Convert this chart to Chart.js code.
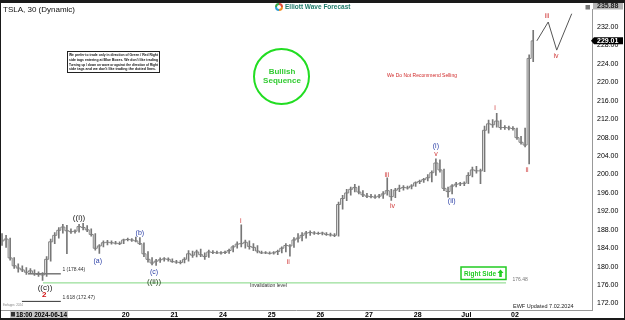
<!DOCTYPE html>
<html>
<head>
<meta charset="utf-8">
<script src="https://cdn.jsdelivr.net/npm/chart.js@4/dist/chart.umd.min.js"></script>
<style>
  html, body { margin: 0; padding: 0; background: #fff; }
</style>
</head>
<body>
<canvas id="tslaChart" width="625" height="320"></canvas>
<script>
// 30 min bars, 12 per session, index 0 = 18:00 2024-06-14
const lows = [
  184.6, 184.2, 181.4, 179.6, 178.8, 178.9, 178.3,                                   // 14
  178.5, 178.1, 177.9, 177.0, 177.9, 181.2, 185.0, 186.2, 187.3, 182.8, 187.2, 187.3, // 17
  187.5, 188.0, 187.6, 186.6, 183.6, 182.9, 184.3, 184.7, 184.9, 184.9, 184.8, 185.0, // 18
  185.6, 185.5, 185.4, 184.8, 182.2, 181.0, 180.4, 180.3, 180.9, 181.2, 181.2, 180.9, // 20
  180.7, 180.6, 180.8, 181.2, 182.0, 182.1, 182.2, 181.6, 182.0, 182.8, 182.8, 182.7, // 21
  182.8, 182.9, 183.2, 184.0, 184.3, 184.0, 183.8, 183.5, 183.0, 182.8, 182.8, 182.7, // 24
  182.7, 182.6, 183.0, 183.2, 182.3, 184.2, 185.3, 185.6, 186.2, 186.8, 187.0, 187.0, // 25
  186.9, 186.8, 186.6, 186.5, 186.6, 192.5, 194.3, 195.5, 196.2, 195.8, 195.2, 195.0, // 26
  194.9, 194.8, 194.9, 194.8, 195.5, 194.4, 195.0, 196.3, 196.6, 196.8, 196.9, 197.4, // 27
  198.0, 198.3, 198.6, 198.4, 199.8, 200.5, 196.5, 195.1, 195.8, 197.3, 197.6, 197.6, // 28
  198.0, 199.5, 200.3, 198.0, 200.6, 209.0, 210.2, 210.3, 209.8, 209.8, 209.7, 209.6, // Jul 01
  207.6, 206.6, 206.0, 202.3, 224.5                                                  // 02
];
const highs = [
  187.2, 186.8, 186.2, 182.0, 180.6, 180.2, 179.8,
  179.6, 179.3, 178.9, 178.7, 182.2, 186.0, 187.4, 188.5, 189.2, 189.0, 188.2, 188.0,
  189.2, 189.4, 188.9, 188.2, 187.2, 184.8, 185.6, 185.7, 185.6, 185.5, 185.4, 186.0,
  186.2, 186.1, 186.4, 186.3, 185.2, 183.3, 182.0, 181.6, 181.9, 182.0, 181.9, 181.7,
  181.4, 181.3, 182.0, 183.5, 183.4, 183.6, 183.8, 183.0, 183.6, 183.5, 183.4, 183.3,
  183.4, 183.8, 184.6, 185.4, 189.1, 185.8, 185.6, 185.0, 184.6, 183.4, 183.3, 183.2,
  183.3, 183.6, 184.3, 185.0, 184.8, 186.3, 187.2, 187.4, 187.7, 187.8, 187.6, 187.5,
  187.5, 187.4, 187.3, 187.2, 194.0, 195.5, 196.8, 197.3, 197.9, 197.5, 196.5, 195.9,
  195.7, 195.6, 195.7, 196.3, 199.3, 196.8, 197.0, 197.7, 197.6, 197.5, 197.8, 198.4,
  198.8, 199.2, 200.0, 200.8, 203.4, 203.2, 201.2, 197.3, 197.8, 198.3, 198.3, 198.4,
  200.4, 201.6, 201.8, 201.2, 210.5, 211.8, 211.9, 213.3, 211.8, 210.6, 210.5, 210.4,
  210.1, 208.3, 210.1, 226.0, 231.3
];
const closes = [
  185.6, 186.0, 181.9, 180.2, 179.7, 179.3, 178.8,
  179.1, 178.5, 178.3, 178.2, 181.6, 185.4, 186.8, 187.9, 188.6, 187.8, 187.6, 187.7,
  188.7, 188.5, 188.0, 187.0, 184.0, 184.5, 185.2, 185.3, 185.2, 185.1, 185.0, 185.8,
  185.9, 185.8, 185.6, 185.0, 182.8, 181.6, 180.8, 181.2, 181.5, 181.7, 181.6, 181.1,
  181.0, 180.9, 181.6, 182.8, 182.5, 183.2, 182.6, 182.2, 183.2, 183.1, 183.0, 183.0,
  183.1, 183.5, 184.3, 184.9, 185.0, 185.3, 184.4, 184.2, 183.4, 183.0, 183.0, 182.9,
  183.0, 183.3, 184.0, 184.6, 184.5, 185.8, 186.2, 186.8, 187.3, 187.4, 187.3, 187.2,
  187.3, 187.0, 186.9, 186.8, 193.5, 194.8, 196.0, 196.8, 197.2, 196.2, 195.6, 195.3,
  195.2, 195.1, 195.3, 195.8, 196.5, 195.2, 196.6, 197.0, 197.2, 197.1, 197.5, 198.2,
  198.5, 198.9, 199.3, 200.4, 202.5, 201.0, 197.0, 196.3, 197.5, 197.9, 198.0, 198.1,
  199.8, 201.0, 200.8, 200.8, 209.6, 211.0, 210.8, 211.6, 210.2, 210.2, 210.1, 210.0,
  208.0, 207.0, 206.4, 225.2, 229.01
];

// x-axis session labels (placed at session starts)
const dayLabels = ['20', '21', '24', '25', '26', '27', '28', 'Jul', '02'];
const dayTicks = [30.5, 42.5, 54.5, 66.5, 78.5, 90.5, 102.5, 114.5, 126.5];
const priceTicks = [172, 176, 180, 184, 188, 192, 196, 200, 204, 208, 212, 216, 220, 224, 228, 232];

const lastPrice = 229.01;
const topPrice = 235.88;
const invalidation = 176.48;
const fibOne = 178.44;
const fibExt = 172.47;

// projected path after the last bar
const projX = [131.9, 134.7, 136.8, 140.5];
const projY = [229.01, 233.1, 227.0, 234.9];

// wave labels: text, bar index, price, kind
const waveLabels = [
  ['((c))', 10.6, 175.5, 'black'],
  ['2', 10.4, 174.0, 'red2'],
  ['((i))', 19.0, 190.6, 'black'],
  ['(a)', 23.6, 181.3, 'blue'],
  ['(b)', 34.0, 187.3, 'blue'],
  ['(c)', 37.5, 178.8, 'blue'],
  ['((ii))', 37.5, 176.8, 'green'],
  ['i', 58.9, 190.0, 'red'],
  ['ii', 70.6, 181.1, 'red'],
  ['iii', 94.9, 199.8, 'red'],
  ['iv', 96.3, 193.2, 'red'],
  ['(i)', 107.0, 206.1, 'blue'],
  ['v', 107.0, 204.4, 'red'],
  ['(ii)', 110.9, 194.2, 'blue'],
  ['i', 121.6, 214.4, 'red'],
  ['ii', 129.5, 200.9, 'red'],
  ['iii', 134.4, 234.3, 'red'],
  ['iv', 136.6, 225.8, 'red']
];

const labelStyle = {
  black: ['#222', '8px "Liberation Sans"'],
  red: ['#d03a3a', '7px "Liberation Sans"'],
  red2: ['#d01010', 'bold 8px "Liberation Sans"'],
  blue: ['#2b3fa6', '7px "Liberation Sans"'],
  green: ['#2a4a22', '8px "Liberation Sans"']
};

const FONT = '"Liberation Sans", Arial, sans-serif';

const overlay = {
  id: 'overlay',
  afterDatasetsDraw(chart) {
    const { ctx, scales: { x, y } } = chart;
    ctx.save();
    ctx.textBaseline = 'middle';

    // wave labels
    ctx.textAlign = 'center';
    waveLabels.forEach(([t, xi, v, kind]) => {
      ctx.fillStyle = labelStyle[kind][0];
      ctx.font = labelStyle[kind][1];
      ctx.fillText(t, x.getPixelForValue(xi), y.getPixelForValue(v));
    });

    // level texts
    ctx.textAlign = 'left';
    ctx.font = '5px ' + FONT;
    ctx.fillStyle = '#333';
    ctx.fillText('1 (' + fibOne.toFixed(2) + ')', x.getPixelForValue(14.9), y.getPixelForValue(fibOne) - 4);
    ctx.fillText('1.618 (' + fibExt.toFixed(2) + ')', x.getPixelForValue(14.9), y.getPixelForValue(fibExt) - 4);
    ctx.fillStyle = '#777';
    ctx.fillText(invalidation.toFixed(2), x.getPixelForValue(125.9), y.getPixelForValue(invalidation) - 3);
    ctx.fillStyle = '#333';
    ctx.fillText('Invalidation level', 250, 286);

    // title
    ctx.font = '8px ' + FONT;
    ctx.fillStyle = '#111';
    ctx.fillText('TSLA, 30 (Dynamic)', 3, 10);

    // note box
    ctx.strokeStyle = '#222';
    ctx.lineWidth = 1;
    ctx.strokeRect(67.5, 51.5, 92, 21);
    ctx.font = 'bold 3.6px ' + FONT;
    ctx.fillStyle = '#111';
    const note = [
      'We prefer to trade only in direction of Green / Red Right',
      'side tags entering at Blue Boxes. We don\'t like trading',
      'Turning up / down on wave or against the direction of Right',
      'side tags and we don\'t like trading the dotted lines.'
    ];
    note.forEach((l, k) => ctx.fillText(l, 69, 55 + k * 4.8, 89));

    // logo
    const cx = 279, cy = 7;
    ['#f28c1e', '#2a9fd8', '#3aa84a', '#e04a3a'].forEach((c, k) => {
      ctx.beginPath();
      ctx.strokeStyle = c;
      ctx.lineWidth = 2;
      ctx.arc(cx, cy, 3, k * Math.PI / 2, (k + 1) * Math.PI / 2);
      ctx.stroke();
    });
    ctx.font = 'bold 6.5px ' + FONT;
    ctx.fillStyle = '#1f7a6a';
    ctx.fillText('Elliott Wave Forecast', 285, 7);

    // bullish circle
    ctx.beginPath();
    ctx.strokeStyle = '#22dd22';
    ctx.lineWidth = 2;
    ctx.arc(281.5, 76.5, 27.5, 0, Math.PI * 2);
    ctx.stroke();
    ctx.textAlign = 'center';
    ctx.font = 'bold 8px ' + FONT;
    ctx.fillStyle = '#33cc33';
    ctx.fillText('Bullish', 282, 71.5);
    ctx.fillText('Sequence', 282, 80.5);

    ctx.textAlign = 'left';
    ctx.font = '5.6px ' + FONT;
    ctx.fillStyle = '#d02828';
    ctx.fillText('We Do Not Recommend Selling', 387, 75, 70);

    // right side tag
    ctx.fillStyle = '#fff';
    ctx.fillRect(461, 267, 45, 12.5);
    ctx.strokeStyle = '#22cc22';
    ctx.lineWidth = 1.5;
    ctx.strokeRect(461, 267, 45, 12.5);
    ctx.font = 'bold 7.5px ' + FONT;
    ctx.fillStyle = '#22cc22';
    ctx.fillText('Right Side', 464, 273.5, 32);
    ctx.beginPath();
    ctx.moveTo(500.5, 269.5); ctx.lineTo(503.5, 273); ctx.lineTo(501.8, 273); ctx.lineTo(501.8, 277);
    ctx.lineTo(499.2, 277); ctx.lineTo(499.2, 273); ctx.lineTo(497.5, 273); ctx.closePath();
    ctx.fill();

    ctx.font = '5.5px ' + FONT;
    ctx.fillStyle = '#222';
    ctx.fillText('EWF Updated 7.02.2024', 513, 306);
    ctx.font = '3px ' + FONT;
    ctx.fillStyle = '#888';
    ctx.fillText('Ewfapps: 2024', 3, 305);
    ctx.restore();
  },
  afterDraw(chart) {
    const { ctx, scales: { y } } = chart;
    ctx.save();
    ctx.textBaseline = 'middle';
    ctx.textAlign = 'left';

    // top price tag
    ctx.fillStyle = '#b5b5b5';
    ctx.fillRect(593, 3, 30, 6.5);
    ctx.fillStyle = '#222';
    ctx.font = 'bold 7px ' + FONT;
    ctx.fillText(topPrice.toFixed(2), 597, 6.5);

    // last price tag
    const py = y.getPixelForValue(lastPrice);
    ctx.fillStyle = '#000';
    ctx.beginPath();
    ctx.moveTo(591, py); ctx.lineTo(594, py - 3.5); ctx.lineTo(623, py - 3.5);
    ctx.lineTo(623, py + 3.5); ctx.lineTo(594, py + 3.5); ctx.closePath();
    ctx.fill();
    ctx.fillStyle = '#fff';
    ctx.fillText(lastPrice.toFixed(2), 597, py);

    // small corner box
    ctx.fillStyle = '#777';
    ctx.fillRect(585.5, 5, 4.5, 4.5);

    // date box bottom left
    ctx.fillStyle = '#c8c8c8';
    ctx.fillRect(10, 311, 58, 7);
    ctx.fillStyle = '#333';
    ctx.fillRect(11, 312, 4, 4.5);
    ctx.fillStyle = '#000';
    ctx.font = 'bold 7px ' + FONT;
    ctx.fillText('18:00 2024-06-14', 16, 314.8, 51);

    // outer frame
    ctx.fillStyle = '#1a1a1a';
    ctx.fillRect(0, 0, 625, 3);
    ctx.fillRect(0, 318, 625, 2);
    ctx.fillRect(0, 0, 1, 320);
    ctx.fillRect(624, 0, 1, 320);
    ctx.restore();
  }
};

const barData = lows.map((l, i) => ({ x: i, y: [l, highs[i]] }));
const closeData = closes.map((c, i) => ({ x: i, y: c }));

new Chart(document.getElementById('tslaChart').getContext('2d'), {
  data: {
    datasets: [
      {
        type: 'line',
        data: closeData,
        borderColor: '#808080',
        borderWidth: 1,
        pointRadius: 0,
        stepped: 'middle'
      },
      {
        type: 'bar',
        data: barData,
        backgroundColor: '#777',
        barThickness: 1,
        grouped: false
      },
      {
        type: 'line',
        data: [{ x: 6.4, y: fibOne }, { x: 14.5, y: fibOne }],
        borderColor: '#333',
        borderWidth: 1,
        pointRadius: 0
      },
      {
        type: 'line',
        data: [{ x: 4.9, y: fibExt }, { x: 14.5, y: fibExt }],
        borderColor: '#333',
        borderWidth: 1,
        pointRadius: 0
      },
      {
        type: 'line',
        data: [{ x: 10.1, y: invalidation }, { x: 124.3, y: invalidation }],
        borderColor: '#7fd67f',
        borderWidth: 1,
        pointRadius: 0
      },
      {
        type: 'line',
        data: projX.map((v, i) => ({ x: v, y: projY[i] })),
        borderColor: '#555',
        borderWidth: 1,
        pointRadius: 0
      }
    ]
  },
  options: {
    responsive: false,
    animation: false,
    layout: { padding: { top: 4, left: 0, right: 0, bottom: 0 } },
    plugins: {
      legend: { display: false },
      tooltip: { enabled: false }
    },
    scales: {
      x: {
        type: 'linear',
        offset: false,
        min: -0.5,
        max: 145.5,
        grid: { display: false, drawTicks: false, offset: false },
        border: { color: '#999' },
        afterBuildTicks: a => { a.ticks = dayTicks.map(v => ({ value: v })); },
        afterFit: a => { a.height = 10; },
        ticks: {
          autoSkip: false,
          maxRotation: 0,
          padding: 1,
          color: '#000',
          font: { size: 7, weight: 'bold', family: FONT },
          callback: (v, i) => dayLabels[i]
        }
      },
      y: {
        position: 'right',
        min: 170.6,
        max: topPrice,
        grid: { display: false, drawTicks: false },
        border: { color: '#999' },
        afterBuildTicks: a => { a.ticks = priceTicks.map(v => ({ value: v })); },
        afterFit: a => { a.width = 33; },
        ticks: {
          padding: 5,
          color: '#000',
          font: { size: 7, family: FONT },
          callback: v => v.toFixed(2)
        }
      }
    }
  },
  plugins: [overlay]
});
</script>
</body>
</html>
